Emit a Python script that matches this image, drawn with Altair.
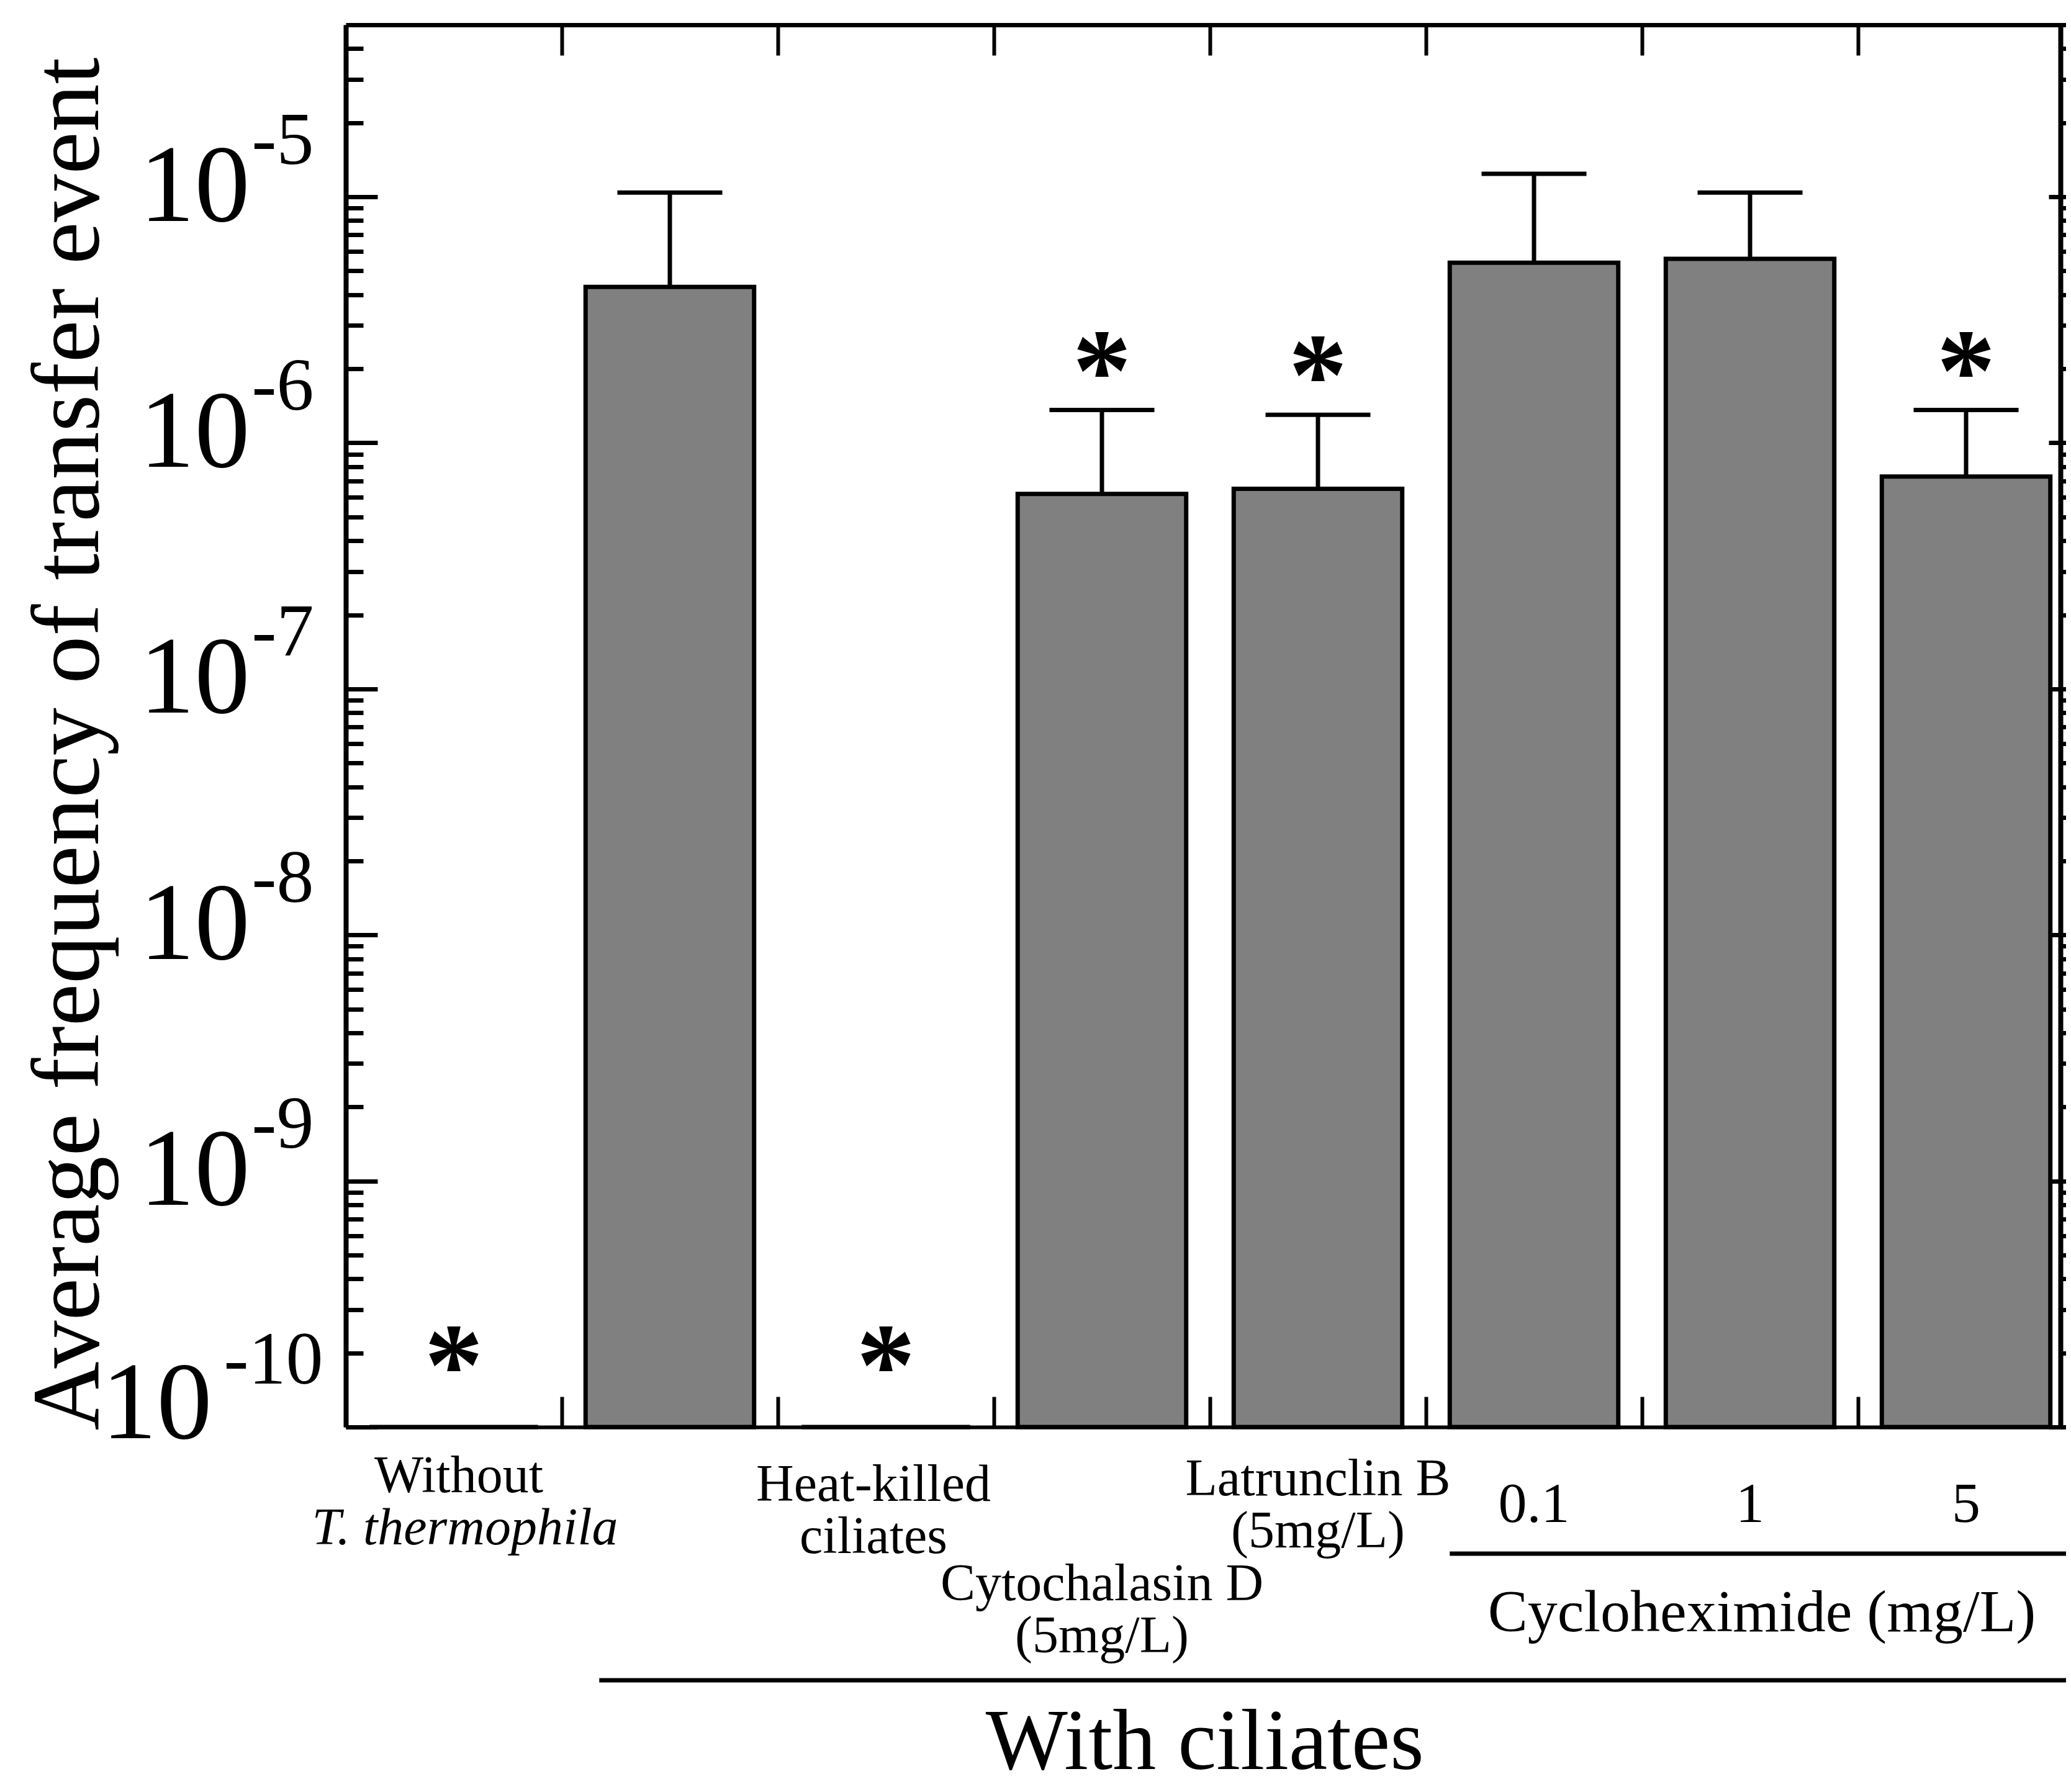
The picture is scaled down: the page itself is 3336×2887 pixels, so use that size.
import json
import altair as alt
import pandas as pd

# ---------------- data ----------------
CATEGORIES = [
    "Without T. thermophila",
    "With ciliates (control)",
    "Heat-killed ciliates",
    "Cytochalasin D (5mg/L)",
    "Latrunclin B (5mg/L)",
    "Cycloheximide 0.1 mg/L",
    "Cycloheximide 1 mg/L",
    "Cycloheximide 5 mg/L",
]
LABEL_LINES = [
    ["Without"],
    [""],
    ["Heat-killed", "ciliates"],
    ["Cytochalasin D", "(5mg/L)"],
    ["Latrunclin B", "(5mg/L)"],
    ["0.1"],
    ["1"],
    ["5"],
]
LABEL_ITALIC = ["T. thermophila", "", "", "", "", "", "", ""]
MEAN_FREQ = [0.0, 4.3e-6, 0.0, 6.2e-7, 6.5e-7, 5.4e-6, 5.6e-6, 7.3e-7]
UPPER_ERR = [None, 1.04e-5, None, 1.36e-6, 1.30e-6, 1.24e-5, 1.04e-5, 1.36e-6]
SIGNIFICANT = [True, False, True, True, True, False, False, True]
Y_EXPONENTS = [-10, -9, -8, -7, -6, -5]
GROUP_CHX = ["Cycloheximide (mg/L)"]
GROUP_CIL = ["With ciliates"]

# ---------------- layout / style ----------------
Y_MIN, Y_MAX = 1e-10, 5e-5
W, H = 2762, 2259
STEP = 348
FONT = "Liberation Serif"
NUMBER_CATS = CATEGORIES[5:]

df = pd.DataFrame({
    "cat": CATEGORIES,
    "mean": MEAN_FREQ,
    "hi": UPPER_ERR,
    "sig": SIGNIFICANT,
})
df["bar_top"] = [m if m > 0 else Y_MIN for m in MEAN_FREQ]

majors = [10.0 ** e for e in Y_EXPONENTS]
minors = [m * 10.0 ** e for e in Y_EXPONENTS for m in range(2, 10) if m * 10.0 ** e < Y_MAX * 0.999]
all_ticks = sorted(majors + minors)

MAJOR_TEST = "abs(log(datum.value)/LN10 - round(log(datum.value)/LN10)) < 1e-6"
LOWEST_TEST = "datum.value < 1.5e-10"

xs = alt.Scale(domain=CATEGORIES, range=[0, 8 * STEP], paddingInner=0.22, paddingOuter=0.11)
ys = alt.Scale(type="log", domain=[Y_MIN, Y_MAX], nice=False)

cats_js = json.dumps(CATEGORIES)
label_pad = {CATEGORIES[0]: 104, CATEGORIES[2]: 118, CATEGORIES[3]: 278, CATEGORIES[4]: 109}
label_shift = {CATEGORIES[0]: 8, CATEGORIES[2]: -20}

ax_x_main = alt.Axis(
    orient="bottom", title=None, ticks=False, grid=False, domain=True, domainWidth=6,
    labelExpr=f"{json.dumps(LABEL_LINES)}[indexof({cats_js}, datum.value)]",
    labelAngle=0, labelAlign="center", labelBaseline="alphabetic", labelLineHeight=84,
    labelFontSize={"condition": {"test": f"indexof({json.dumps(NUMBER_CATS)}, datum.value) >= 0", "value": 92}, "value": 84},
    labelPadding={"condition": [{"test": f"datum.value === {json.dumps(k)}", "value": v} for k, v in label_pad.items()], "value": 152},
    labelOffset={"condition": [{"test": f"datum.value === {json.dumps(k)}", "value": v} for k, v in label_shift.items()], "value": 0},
    labelLimit=3000, labelOverlap=False, labelFlush=False, labelBound=False,
)
ax_x_italic = alt.Axis(
    orient="bottom", title=None, ticks=False, grid=False, domain=False,
    labelExpr=f"{json.dumps(LABEL_ITALIC)}[indexof({cats_js}, datum.value)]",
    labelAngle=0, labelAlign="center", labelBaseline="alphabetic", labelFontSize=84,
    labelFontStyle="italic", labelPadding=188, labelOffset=18,
    labelLimit=3000, labelOverlap=False, labelFlush=False, labelBound=False,
)
ax_x_top = alt.Axis(
    orient="bottom", offset=-H, title=None, labels=False, grid=False,
    domain=True, domainWidth=7, ticks=True, tickSize=49, tickWidth=6,
    bandPosition=0.5, tickOffset=-STEP / 2,
)
ax_x_bottom_ticks = alt.Axis(
    orient="top", offset=-H, title=None, labels=False, grid=False,
    domain=False, ticks=True, tickSize=49, tickWidth=6,
    bandPosition=0.5, tickOffset=-STEP / 2,
)

ax_y_base = alt.Axis(
    orient="left", values=majors, ticks=False, domain=False, grid=False,
    labelExpr="'10'", labelFontSize=178, labelAlign="right", labelBaseline="alphabetic",
    labelPadding={"condition": {"test": LOWEST_TEST, "value": 216}, "value": 155},
    labelOffset={"condition": {"test": LOWEST_TEST, "value": 17}, "value": 38},
    labelOverlap=False, labelFlush=False, labelBound=False, labelLimit=3000,
    title="Average frequency of transfer event", titleFontSize=154, titleFontWeight="normal",
    titleAngle=270, titleX=-400, titleY=1158, titleAlign="center", titleBaseline="alphabetic",
    titleLimit=4000,
)
ax_y_sup = alt.Axis(
    orient="left", values=majors, ticks=False, domain=False, grid=False, title=None,
    labelExpr="'' + round(log(datum.value)/LN10)", labelFontSize=120, labelAlign="right",
    labelBaseline="alphabetic",
    labelPadding={"condition": {"test": LOWEST_TEST, "value": 37}, "value": 52},
    labelOffset={"condition": {"test": LOWEST_TEST, "value": -71}, "value": -54},
    labelOverlap=False, labelFlush=False, labelBound=False, labelLimit=3000,
)
ax_y_left_ticks = alt.Axis(
    orient="right", offset=-W, values=all_ticks, labels=False, title=None, grid=False,
    domain=True, domainWidth=8, ticks=True, tickWidth=7,
    tickSize={"condition": {"test": MAJOR_TEST, "value": 51}, "value": 28},
)
ax_y_right = alt.Axis(
    orient="right", values=all_ticks, labels=False, title=None, grid=False,
    domain=True, domainWidth=8, ticks=True, tickWidth=7, tickSize=30,
)
ax_y_right_inner = alt.Axis(
    orient="left", offset=-W, values=majors, labels=False, title=None, grid=False,
    domain=False, ticks=True, tickWidth=7, tickSize=19,
)

base = alt.Chart(df)

bars = base.mark_bar(fill="#808080", stroke="black", strokeWidth=7, opacity=1).encode(
    x=alt.X("cat:N", scale=xs, axis=ax_x_main),
    y=alt.Y("bar_top:Q", scale=ys, axis=ax_y_base),
    y2=alt.Y2Datum(Y_MIN),
)

err = base.transform_filter("isValid(datum.hi)").mark_rule(strokeWidth=7, color="black", opacity=1).encode(
    x=alt.X("cat:N", scale=xs, axis=ax_x_italic),
    y=alt.Y("mean:Q", scale=ys, axis=ax_y_sup),
    y2="hi:Q",
)

caps = base.transform_filter("isValid(datum.hi)").mark_tick(
    size=169, thickness=7, color="black", opacity=1, orient="horizontal"
).encode(
    x=alt.X("cat:N", scale=xs, axis=ax_x_top),
    y=alt.Y("hi:Q", scale=ys, axis=ax_y_left_ticks),
)

STAR_STYLE = dict(text="*", font=FONT, fontSize=190, fontWeight="bold", baseline="alphabetic", color="black")

stars_top = base.transform_filter("datum.sig && isValid(datum.hi)").mark_text(dy=0, **STAR_STYLE).encode(
    x=alt.X("cat:N", scale=xs, axis=ax_x_bottom_ticks),
    y=alt.Y("hi:Q", scale=ys, axis=ax_y_right),
)

stars_bottom = base.transform_filter("datum.sig && !isValid(datum.hi)").mark_text(dy=-36, **STAR_STYLE).encode(
    x=alt.X("cat:N", scale=xs, axis=None),
    y=alt.Y("bar_top:Q", scale=ys, axis=ax_y_right_inner),
)

chx_df = pd.DataFrame({"label": GROUP_CHX, "start": [CATEGORIES[5]], "end": [CATEGORIES[7]], "anchor": [CATEGORIES[6]]})
cil_df = pd.DataFrame({"label": GROUP_CIL, "start": [CATEGORIES[1]], "end": [CATEGORIES[7]], "anchor": [CATEGORIES[3]]})

rule_chx = alt.Chart(chx_df).mark_rule(strokeWidth=7, color="black", x2Offset=40).encode(
    x=alt.X("start:N", scale=xs, axis=None, bandPosition=0),
    x2=alt.X2("end:N", bandPosition=1),
    y=alt.value(2463),
)
rule_cil = alt.Chart(cil_df).mark_rule(strokeWidth=7, color="black", xOffset=22, x2Offset=40).encode(
    x=alt.X("start:N", scale=xs, axis=None, bandPosition=0),
    x2=alt.X2("end:N", bandPosition=1),
    y=alt.value(2667),
)
text_chx = alt.Chart(chx_df).mark_text(font=FONT, fontSize=96, baseline="alphabetic", align="center", dx=19, color="black").encode(
    x=alt.X("anchor:N", scale=xs, axis=None),
    y=alt.value(2588),
    text="label:N",
)
text_cil = alt.Chart(cil_df).mark_text(font=FONT, fontSize=140, baseline="alphabetic", align="center", dx=30, color="black").encode(
    x=alt.X("anchor:N", scale=xs, axis=None, bandPosition=1),
    y=alt.value(2810),
    text="label:N",
)

chart = (
    alt.layer(bars, err, caps, stars_top, stars_bottom, rule_chx, rule_cil, text_chx, text_cil)
    .resolve_scale(x="shared", y="shared")
    .resolve_axis(x="independent", y="independent")
    .properties(
        width=W,
        height=H,
        autosize=alt.AutoSizeParams(type="none"),
        padding={"left": 549, "top": 32, "right": 9, "bottom": 586},
    )
    .configure_view(stroke=None)
    .configure_axis(
        labelFont=FONT, titleFont=FONT, labelColor="black", titleColor="black",
        domainColor="black", tickColor="black", grid=False,
    )
)

chart.save("out.html", embed_options={"renderer": "svg", "actions": False})
